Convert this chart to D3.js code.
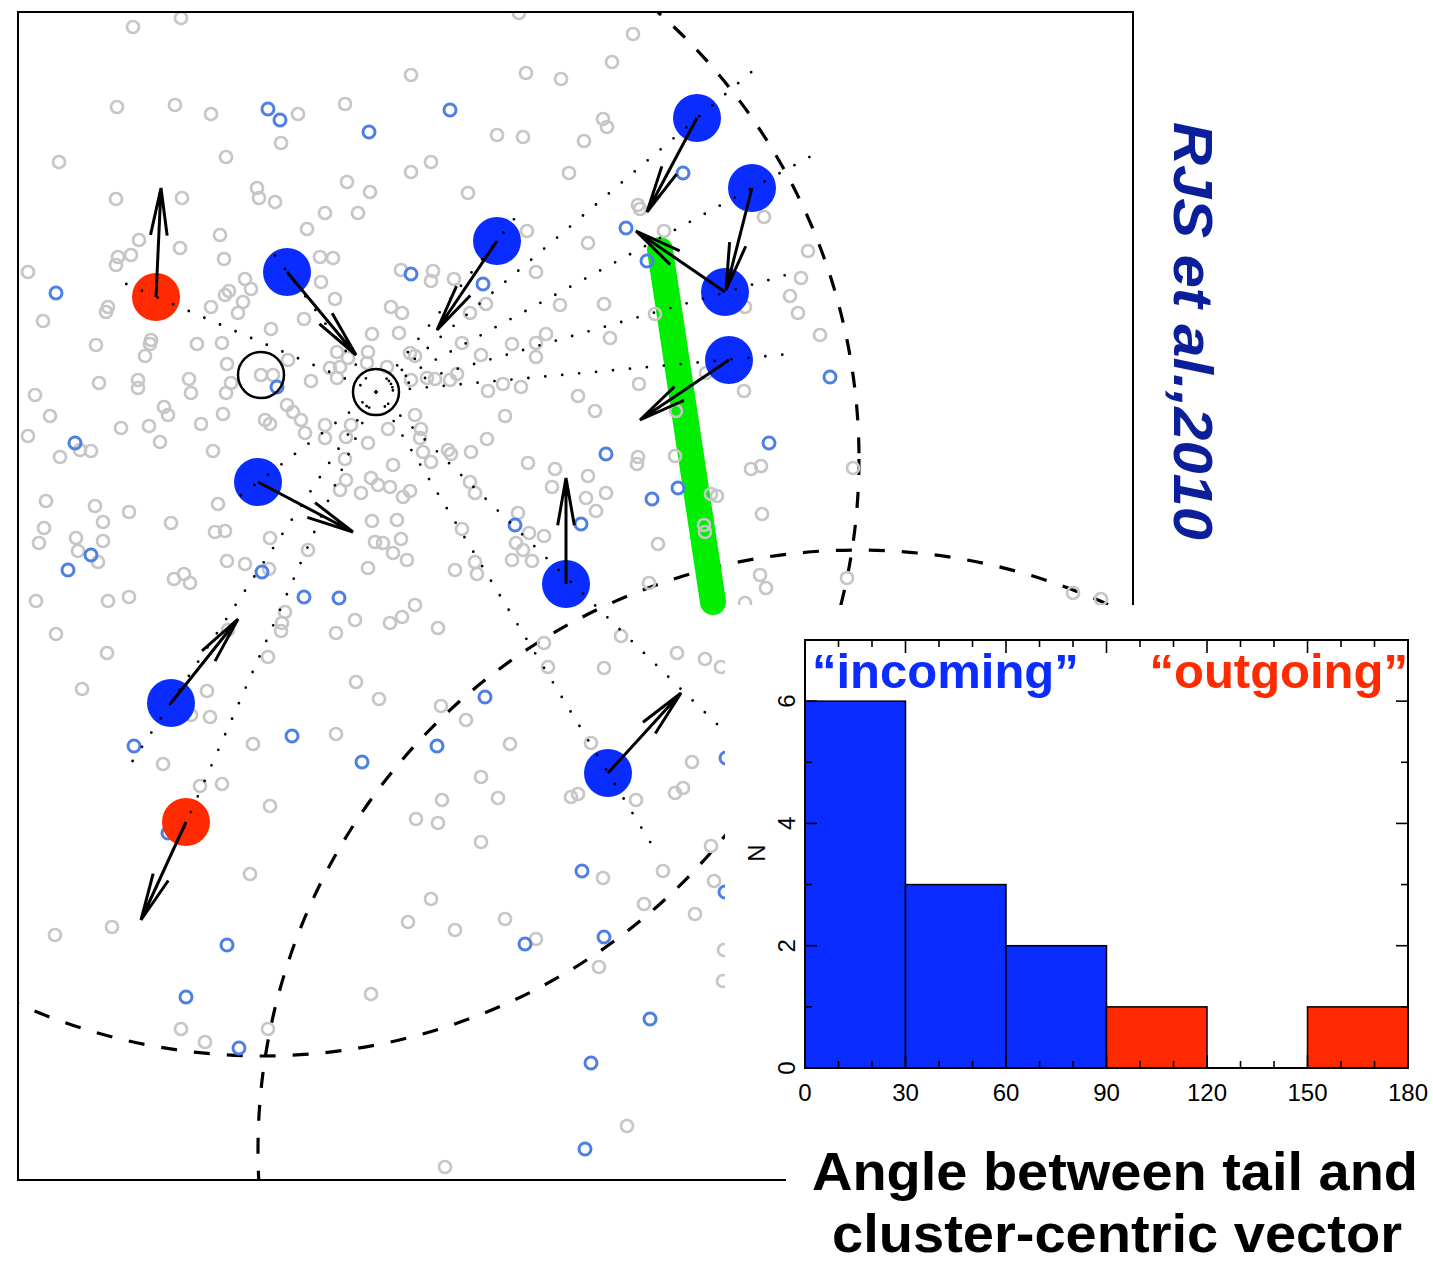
<!DOCTYPE html>
<html>
<head>
<meta charset="utf-8">
<title>Tail angles</title>
<script src="https://d3js.org/d3.v7.min.js"></script>
<style>
body { margin: 0; background: #fff; }
svg text { font-family: "Liberation Sans", Arial, Helvetica, sans-serif; }
</style>
</head>
<body>
<div id="chart"></div>
<script>
// ---- data (positions in image pixel units of the field) ----
var fieldGals = [
 [133,27],[181,18],[117,107],[175,105],[211,114],[298,114],[345,104],[281,143],[59,162],[226,157],[257,188],[259,198],[275,202],[347,182],[370,192],[116,199],[182,198],[325,213],[358,213],[307,229],[220,235],[139,240],[180,248],[131,255],[118,257],[116,265],[224,259],[320,257],[333,258],[28,272],[245,279],[251,289],[229,291],[225,295],[243,302],[321,282],[335,299],[391,307],[401,270],[108,307],[106,312],[211,307],[238,313],[304,319],[43,321],[271,329],[372,334],[399,333],[96,345],[151,340],[150,344],[145,356],[197,344],[222,343],[227,364],[337,352],[368,352],[288,360],[348,358],[340,367],[330,368],[367,363],[387,367],[311,381],[337,378],[261,375],[273,375],[231,383],[99,383],[138,380],[138,388],[189,379],[191,393],[35,395],[226,393],
 [519,13],[633,34],[612,62],[411,75],[526,73],[561,79],[497,135],[523,137],[603,119],[607,127],[584,141],[431,162],[411,172],[569,173],[468,193],[638,205],[640,209],[527,231],[588,243],[664,231],[764,217],[433,271],[431,281],[454,279],[536,272],[402,313],[470,313],[486,304],[560,305],[604,304],[655,314],[745,307],[462,343],[481,355],[512,344],[536,343],[546,334],[536,357],[610,338],[410,353],[415,356],[427,378],[435,379],[450,380],[457,374],[411,380],[488,391],[503,384],[521,387],[578,396],[639,384],[706,373],[744,391],
 [808,251],[801,278],[790,296],[798,313],[820,335],
 [28,436],[50,416],[121,428],[149,426],[160,442],[164,407],[168,415],[201,424],[223,414],[265,420],[270,424],[287,405],[293,412],[301,420],[305,433],[325,425],[325,438],[346,437],[351,425],[368,443],[388,429],[345,459],[393,465],[213,451],[60,457],[80,450],[91,451],[46,501],[95,506],[103,522],[129,512],[171,523],[218,504],[215,532],[225,531],[270,538],[308,550],[340,490],[346,480],[361,493],[371,478],[378,485],[390,487],[372,521],[375,542],[383,543],[393,553],[397,520],[368,568],[44,528],[39,543],[76,538],[78,551],[103,541],[98,562],[227,561],[245,564],[269,569],[174,579],[184,574],[190,583],[36,601],[108,601],[129,597],[285,612],[282,623],[281,631],[228,630],[355,620],[390,623],[336,633],[56,634],[107,653],[268,657],[356,682],[379,699],[82,689],[207,691],[210,717],[191,715],[253,744],[336,734],[163,764],[200,786],[222,784],
 [505,416],[595,411],[415,415],[421,429],[420,438],[423,452],[431,462],[448,450],[451,454],[471,452],[487,439],[528,463],[555,469],[552,487],[588,476],[586,498],[606,493],[596,511],[638,457],[637,464],[676,411],[675,456],[711,494],[717,496],[704,525],[705,532],[751,469],[761,466],[762,514],[658,544],[649,583],[760,575],[766,588],[745,603],[401,539],[407,560],[410,491],[403,497],[470,482],[475,493],[518,513],[529,533],[544,536],[516,543],[523,550],[512,560],[532,561],[462,529],[475,562],[477,574],[455,570],[415,605],[402,617],[438,628],[544,643],[621,636],[604,668],[548,667],[677,653],[705,659],[721,667],[441,706],[466,720],[510,744],[481,777],[591,743],[692,762],[683,788],[675,793],[578,794],[571,797],[442,800],[498,798],[636,800],
 [853,468],[847,578],[1073,593],[1101,599],
 [270,806],[250,874],[112,927],[55,935],[371,994],[181,1029],[205,1042],[268,1029],
 [416,819],[438,823],[481,842],[711,846],[663,871],[603,878],[714,881],[431,899],[408,922],[455,930],[505,919],[536,939],[644,904],[695,914],[599,967],[724,950],[723,981],[627,1126],[445,1167]
];

var memberGals = [
 [268,109],[280,120],[369,132],[56,293],[277,387],[450,110],[411,274],[483,284],[683,173],[626,228],[647,261],[830,377],[75,443],[91,555],[68,570],[262,572],[304,597],[339,598],[292,736],[134,746],[362,762],[606,454],[678,488],[652,499],[769,443],[515,525],[581,524],[485,697],[437,746],[726,758],[227,945],[186,997],[239,1048],[168,833],[582,871],[525,944],[604,937],[650,1019],[591,1063],[585,1149],[725,892]
];

// jellyfish galaxies: position, tail tip, end of the cluster-centric line
var tailGals = [
 {x:697, y:118, tipX:647, tipY:212, endX:756, endY:68,  kind:"in"},
 {x:752, y:188, tipX:726, tipY:290, endX:815, endY:154, kind:"in"},
 {x:725, y:292, tipX:636, tipY:231, endX:800, endY:271, kind:"in"},
 {x:729, y:360, tipX:640, tipY:420, endX:790, endY:354, kind:"in"},
 {x:497, y:241, tipX:437, tipY:330, endX:515, endY:218, kind:"in"},
 {x:287, y:272, tipX:356, tipY:355, endX:271, endY:250, kind:"in"},
 {x:156, y:297, tipX:161, tipY:188, endX:124, endY:283, kind:"out"},
 {x:258, y:482, tipX:353, tipY:532, endX:240, endY:496, kind:"in"},
 {x:566, y:584, tipX:566, tipY:478, endX:722, endY:729, kind:"in"},
 {x:171, y:703, tipX:238, tipY:619, endX:130, endY:765, kind:"in"},
 {x:608, y:773, tipX:681, tipY:693, endX:655, endY:850, kind:"in"},
 {x:186, y:822, tipX:141, tipY:920, endX:183, endY:830, kind:"out"}
];

var clusterCentre = [376, 392];
var bcgs = [[261,375],[376,392]];
var rings = [{cx:262, cy:459, r:597}, {cx:858, cy:1150, r:600}];
var greenTail = [[660,250],[713,602]];

// histogram
var angleEdges = [0,30,60,90,120,150,180];
var angleCounts = [6,3,2,1,0,1];
var angleTicks = [0,30,60,90,120,150,180];
var countTicks = [0,2,4,6];

var BLUE = "#0b2cff", RED = "#ff2a00";

var svg = d3.select("#chart").append("svg")
  .attr("width", 1433).attr("height", 1263);

// ---- main field panel ----
var x = d3.scaleLinear().domain([18,1133]).range([18,1133]);
var y = d3.scaleLinear().domain([12,1180]).range([12,1180]);

svg.append("clipPath").attr("id","panel")
  .append("rect").attr("x",x(18)).attr("y",y(12))
  .attr("width",x(1133)-x(18)).attr("height",y(1180)-y(12));

var field = svg.append("g").attr("clip-path","url(#panel)");

field.selectAll(".ring").data(rings).enter().append("circle")
  .attr("cx", function(d){ return x(d.cx); })
  .attr("cy", function(d){ return y(d.cy); })
  .attr("r", function(d){ return x(d.cx + d.r) - x(d.cx); })
  .attr("fill","none").attr("stroke","#000")
  .attr("stroke-width",3.2).attr("stroke-dasharray","16,17");

field.append("line")
  .attr("x1", x(greenTail[0][0])).attr("y1", y(greenTail[0][1]))
  .attr("x2", x(greenTail[1][0])).attr("y2", y(greenTail[1][1]))
  .attr("stroke","#00ee00").attr("stroke-width",26).attr("stroke-linecap","round");

field.selectAll(".fg").data(fieldGals).enter().append("circle")
  .attr("cx", function(d){ return x(d[0]); })
  .attr("cy", function(d){ return y(d[1]); })
  .attr("r",6).attr("fill","none").attr("stroke","#c6c6c6").attr("stroke-width",2.7);

field.selectAll(".mg").data(memberGals).enter().append("circle")
  .attr("cx", function(d){ return x(d[0]); })
  .attr("cy", function(d){ return y(d[1]); })
  .attr("r",6).attr("fill","none").attr("stroke","#4d7fe6").attr("stroke-width",3);

field.selectAll(".tg").data(tailGals).enter().append("circle")
  .attr("cx", function(d){ return x(d.x); })
  .attr("cy", function(d){ return y(d.y); })
  .attr("r",24)
  .attr("fill", function(d){ return d.kind == "in" ? BLUE : RED; });

// cluster-centric lines
field.selectAll(".cc").data(tailGals).enter().append("line")
  .attr("x1", x(clusterCentre[0])).attr("y1", y(clusterCentre[1]))
  .attr("x2", function(d){ return x(d.endX); })
  .attr("y2", function(d){ return y(d.endY); })
  .attr("stroke","#000").attr("stroke-width",2.8)
  .attr("stroke-linecap","round").attr("stroke-dasharray","0,17");

// tail arrows
var arrows = field.selectAll(".arr").data(tailGals).enter().append("g");
arrows.append("path")
  .attr("d", function(d){
    var tx = x(d.tipX), ty = y(d.tipY), sx = x(d.x), sy = y(d.y);
    var a = Math.atan2(sy - ty, sx - tx), L = 48, h = 10 * Math.PI / 180;
    return "M" + sx + "," + sy + "L" + tx + "," + ty +
      "M" + (tx + L*Math.cos(a-h)) + "," + (ty + L*Math.sin(a-h)) + "L" + tx + "," + ty +
      "L" + (tx + L*Math.cos(a+h)) + "," + (ty + L*Math.sin(a+h));
  })
  .attr("fill","none").attr("stroke","#000").attr("stroke-width",3)
  .attr("stroke-linejoin","miter");

field.selectAll(".bcg").data(bcgs).enter().append("circle")
  .attr("cx", function(d){ return x(d[0]); })
  .attr("cy", function(d){ return y(d[1]); })
  .attr("r",23).attr("fill","none").attr("stroke","#000").attr("stroke-width",2.5);

svg.append("rect").attr("x",18).attr("y",12).attr("width",1115).attr("height",1168)
  .attr("fill","none").attr("stroke","#000").attr("stroke-width",2);

// credit
svg.append("text")
  .attr("transform","translate(1174,122) rotate(90)")
  .attr("font-size",55).attr("font-weight","bold").attr("font-style","italic")
  .attr("fill","#0a1f99")
  .attr("textLength",418).attr("lengthAdjust","spacingAndGlyphs")
  .text("RJS et al.,2010");

// ---- inset histogram ----
svg.append("rect").attr("x",725).attr("y",605).attr("width",708).attr("height",535).attr("fill","#fff");
svg.append("rect").attr("x",786).attr("y",1140).attr("width",647).attr("height",123).attr("fill","#fff");

var hx = d3.scaleLinear().domain([0,180]).range([805,1408]);
var hy = d3.scaleLinear().domain([0,7]).range([1068,640]);

var bins = angleCounts.map(function(c, i){ return {lo: angleEdges[i], hi: angleEdges[i+1], n: c}; })
  .filter(function(b){ return b.n > 0; });

svg.selectAll(".bar").data(bins).enter().append("rect")
  .attr("x", function(b){ return hx(b.lo); })
  .attr("y", function(b){ return hy(b.n); })
  .attr("width", function(b){ return hx(b.hi) - hx(b.lo); })
  .attr("height", function(b){ return hy(0) - hy(b.n); })
  .attr("fill", function(b){ return b.lo < 90 ? BLUE : RED; })
  .attr("stroke","#000").attr("stroke-width",1.5);

var tk = svg.append("g").attr("stroke","#000").attr("stroke-width",1.6);
d3.range(0, 181, 10).forEach(function(v){
  var len = v % 30 == 0 ? 13 : 7;
  tk.append("line").attr("x1",hx(v)).attr("x2",hx(v)).attr("y1",hy(0)).attr("y2",hy(0)-len);
  tk.append("line").attr("x1",hx(v)).attr("x2",hx(v)).attr("y1",hy(7)).attr("y2",hy(7)+len);
});
d3.range(0, 8, 1).forEach(function(v){
  var len = v % 2 == 0 ? 12 : 7;
  tk.append("line").attr("y1",hy(v)).attr("y2",hy(v)).attr("x1",hx(0)).attr("x2",hx(0)+len);
  tk.append("line").attr("y1",hy(v)).attr("y2",hy(v)).attr("x1",hx(180)).attr("x2",hx(180)-len);
});

svg.append("rect").attr("x",hx(0)).attr("y",hy(7))
  .attr("width",hx(180)-hx(0)).attr("height",hy(0)-hy(7))
  .attr("fill","none").attr("stroke","#000").attr("stroke-width",2);

svg.selectAll(".xl").data(angleTicks).enter().append("text")
  .attr("x", function(v){ return hx(v); }).attr("y",1101)
  .attr("text-anchor","middle").attr("font-size",24).text(function(v){ return v; });

svg.selectAll(".yl").data(countTicks).enter().append("text")
  .attr("transform", function(v){ return "translate(795," + hy(v) + ") rotate(-90)"; })
  .attr("text-anchor","middle").attr("font-size",24).text(function(v){ return v; });

svg.append("text").attr("transform","translate(765,853) rotate(-90)")
  .attr("text-anchor","middle").attr("font-size",24).text("N");

svg.append("text").attr("x",812).attr("y",688)
  .attr("font-size",49).attr("font-weight","bold").attr("fill",BLUE)
  .text("\u201cincoming\u201d");
svg.append("text").attr("x",1408).attr("y",688).attr("text-anchor","end")
  .attr("font-size",49).attr("font-weight","bold").attr("fill",RED)
  .text("\u201coutgoing\u201d");

svg.append("text").attr("x",812).attr("y",1190)
  .attr("font-size",53).attr("font-weight","bold")
  .attr("textLength",606).attr("lengthAdjust","spacingAndGlyphs")
  .text("Angle between tail and");
svg.append("text").attr("x",832).attr("y",1252)
  .attr("font-size",53).attr("font-weight","bold")
  .attr("textLength",570).attr("lengthAdjust","spacingAndGlyphs")
  .text("cluster-centric vector");
</script>
</body>
</html>
